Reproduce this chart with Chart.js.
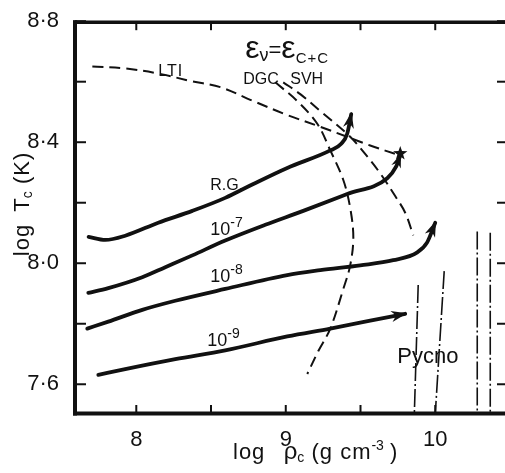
<!DOCTYPE html>
<html><head><meta charset="utf-8">
<script src="https://cdn.jsdelivr.net/npm/chart.js@4"></script>
<style>html,body{margin:0;padding:0;background:#fff}#wrap{width:505px;height:473px}</style>
</head><body><div id="wrap"><canvas id="c" width="505" height="473"></canvas></div>
<script>
// ---- tick values ----
const xTicks = [8, 9, 10];
const xMinorTicks = [8, 8.5, 9, 9.5, 10];
const yLabeled = [7.6, 8.0, 8.4, 8.8];
const yMinorTicks = [7.6, 7.8, 8.0, 8.2, 8.4, 8.6, 8.8];

// ---- evolutionary tracks (log rho_c, log T_c) ----
const rgRho = [7.681, 7.793, 7.926, 8.147, 8.375, 8.595, 8.783, 9.010, 9.298, 9.371, 9.411, 9.438];
const rgT   = [8.087, 8.077, 8.091, 8.134, 8.173, 8.216, 8.262, 8.315, 8.373, 8.395, 8.428, 8.493];

const m7Rho = [7.679, 7.813, 8.040, 8.194, 8.375, 8.595, 8.863, 9.117, 9.411, 9.679, 9.739, 9.766];
const m7T   = [7.902, 7.918, 7.954, 7.987, 8.026, 8.075, 8.127, 8.173, 8.229, 8.281, 8.320, 8.356];

const m8Rho = [7.672, 7.813, 8.040, 8.261, 8.595, 9.010, 9.231, 9.498, 9.719, 9.880, 9.946, 10.0];
const m8T   = [7.784, 7.807, 7.846, 7.876, 7.915, 7.961, 7.977, 7.993, 8.010, 8.036, 8.069, 8.134];

const m9Rho = [7.746, 7.926, 8.261, 8.595, 9.010, 9.298, 9.565, 9.799];
const m9T   = [7.631, 7.650, 7.683, 7.712, 7.758, 7.784, 7.810, 7.833];

// ---- ignition lines eps_nu = eps_C+C ----
const ltiRho = [7.706, 7.926, 8.147, 8.375, 8.562, 8.783, 9.010, 9.231, 9.411, 9.565, 9.766];
const ltiT   = [8.650, 8.644, 8.627, 8.601, 8.582, 8.536, 8.490, 8.451, 8.418, 8.389, 8.356];

const dgcRho = [8.930, 9.077, 9.211, 9.298, 9.385, 9.431, 9.452, 9.431, 9.385, 9.298, 9.217, 9.144];
const dgcT   = [8.598, 8.536, 8.461, 8.373, 8.275, 8.183, 8.085, 7.993, 7.915, 7.784, 7.709, 7.634];

const svhRho = [8.983, 9.097, 9.231, 9.431, 9.545, 9.632, 9.732, 9.799, 9.853];
const svhT   = [8.598, 8.559, 8.503, 8.418, 8.353, 8.297, 8.222, 8.167, 8.092];

// ---- pycnonuclear lines ----
const py1Rho = [9.886, 9.860]; const py1T = [7.928, 7.50];
const py2Rho = [10.060, 10.000]; const py2T = [7.974, 7.50];
const py3Rho = [10.281, 10.281]; const py3T = [8.105, 7.50];
const py4Rho = [10.368, 10.368]; const py4T = [8.101, 7.50];

const INK = '#111';
const FONT = 'Liberation Sans, Arial, sans-serif';
const pts = (xs, ys) => xs.map((v, i) => ({x: v, y: ys[i]}));
const solid = (xs, ys) => ({data: pts(xs, ys), showLine: true, borderColor: INK, borderWidth: 3.8, pointRadius: 0, cubicInterpolationMode: 'monotone', fill: false, borderCapStyle: 'round'});
const dashed = (xs, ys) => ({data: pts(xs, ys), showLine: true, borderColor: INK, borderWidth: 2, borderDash: [11, 6], pointRadius: 0, tension: 0.35, fill: false});
const dashdot = (xs, ys) => ({data: pts(xs, ys), showLine: true, borderColor: INK, borderWidth: 1.6, borderDash: [18, 3, 2, 3], pointRadius: 0, tension: 0, fill: false});

function rich(ctx, pieces, x, y, align) {
  // pieces: [text, size, dy, spacing]
  let total = 0;
  const w = pieces.map(p => { ctx.font = p[1] + 'px ' + FONT; ctx.letterSpacing = (p[3] || 0) + 'px'; const m = ctx.measureText(p[0]).width; total += m; return m; });
  let cx = align === 'center' ? x - total / 2 : x;
  pieces.forEach((p, i) => { ctx.font = p[1] + 'px ' + FONT; ctx.letterSpacing = (p[3] || 0) + 'px'; ctx.fillText(p[0], cx, y + (p[2] || 0)); cx += w[i]; });
  ctx.letterSpacing = '0px';
}

const overlay = {
  id: 'overlay',
  afterDatasetsDraw(chart) {
    const {ctx, chartArea: a, scales: {x, y}} = chart;
    const X = v => x.getPixelForValue(v), Y = v => y.getPixelForValue(v);
    ctx.save();
    ctx.fillStyle = INK; ctx.strokeStyle = INK;

    // arrowheads
    function arrow(xs, ys, len, wid) {
      const n = xs.length;
      const px = X(xs[n - 1]), py = Y(ys[n - 1]);
      const qx = X(xs[n - 2]), qy = Y(ys[n - 2]);
      let dx = px - qx, dy = py - qy; const L = Math.hypot(dx, dy); dx /= L; dy /= L;
      const tx = px + dx * 2, ty = py + dy * 2;
      const bx = tx - dx * len, by = ty - dy * len;
      ctx.beginPath();
      ctx.moveTo(tx, ty);
      ctx.lineTo(bx - dy * wid / 2, by + dx * wid / 2);
      ctx.lineTo(tx - dx * len * 0.7, ty - dy * len * 0.7);
      ctx.lineTo(bx + dy * wid / 2, by - dx * wid / 2);
      ctx.closePath(); ctx.fill();
    }
    arrow(rgRho, rgT, 16, 11);
    arrow(m7Rho, m7T, 14, 10);
    arrow(m8Rho, m8T, 16, 11);
    arrow(m9Rho, m9T, 16, 11);

    // star at end of 1e-7 track
    const sx = X(m7Rho[m7Rho.length - 1]), sy = Y(m7T[m7T.length - 1]) - 2;
    ctx.beginPath();
    for (let k = 0; k < 10; k++) {
      const r = k % 2 ? 3 : 7.5, t = -Math.PI / 2 + k * Math.PI / 5;
      const ppx = sx + r * Math.cos(t), ppy = sy + r * Math.sin(t);
      k ? ctx.lineTo(ppx, ppy) : ctx.moveTo(ppx, ppy);
    }
    ctx.closePath(); ctx.fill();

    // frame
    ctx.lineCap = 'butt';
    ctx.lineWidth = 4;
    ctx.beginPath(); ctx.moveTo(a.left, a.top - 1); ctx.lineTo(a.left, a.bottom + 2.5); ctx.stroke();
    ctx.beginPath(); ctx.moveTo(a.left - 2, a.bottom + 0.5); ctx.lineTo(chart.width, a.bottom + 0.5); ctx.stroke();
    ctx.lineWidth = 3.5;
    ctx.beginPath(); ctx.moveTo(a.left - 2, a.top + 1); ctx.lineTo(chart.width, a.top + 1); ctx.stroke();

    // inward ticks
    ctx.lineWidth = 2;
    yMinorTicks.forEach(v => {
      const yy = Y(v);
      ctx.beginPath(); ctx.moveTo(a.left, yy); ctx.lineTo(a.left + 11, yy); ctx.stroke();
      ctx.beginPath(); ctx.moveTo(chart.width, yy); ctx.lineTo(chart.width - 8, yy); ctx.stroke();
    });
    xMinorTicks.forEach(v => {
      const xx = X(v);
      ctx.beginPath(); ctx.moveTo(xx, a.bottom); ctx.lineTo(xx, a.bottom - 8); ctx.stroke();
      ctx.beginPath(); ctx.moveTo(xx, a.top + 1); ctx.lineTo(xx, a.top + 9); ctx.stroke();
    });

    // annotations
    ctx.textBaseline = 'alphabetic';
    ctx.textAlign = 'left';
    rich(ctx, [['ε', 32], ['ν', 18, 3], ['=', 22, -1], ['ε', 32], ['C+C', 15, 5, 1]], X(8.729), Y(8.680));
    rich(ctx, [['DGC', 16]], X(8.716), Y(8.592));
    rich(ctx, [['SVH', 16]], X(9.030), Y(8.592));
    rich(ctx, [['LTI', 16, 0, 1]], X(8.147), Y(8.618));
    rich(ctx, [['R.G.', 16]], X(8.495), Y(8.242));
    rich(ctx, [['10', 18], ['-7', 14, -8]], X(8.495), Y(8.092));
    rich(ctx, [['10', 18], ['-8', 14, -8]], X(8.495), Y(7.938));
    rich(ctx, [['10', 18], ['-9', 14, -8]], X(8.475), Y(7.725));
    rich(ctx, [['Pycno', 22]], X(9.746), Y(7.670));

    // axis titles
    rich(ctx, [['log', 22, 0, 1], ['   ', 22], ['ρ', 24], ['c', 14, 3], [' (g cm', 22, 0, 1], ['-3', 14, -9], [' )', 22]], 233, 459);
    ctx.translate(29, 204);
    ctx.rotate(-Math.PI / 2);
    rich(ctx, [['log', 22, 0, 1], ['  T', 22], ['c', 14, 3], [' (K)', 22, 0, 1]], 0, 0, 'center');
    ctx.restore();
  }
};

new Chart(document.getElementById('c'), {
  type: 'scatter',
  data: {
    datasets: [
      solid(rgRho, rgT), solid(m7Rho, m7T), solid(m8Rho, m8T), solid(m9Rho, m9T),
      dashed(ltiRho, ltiT), dashed(dgcRho, dgcT), dashed(svhRho, svhT),
      dashdot(py1Rho, py1T), dashdot(py2Rho, py2T), dashdot(py3Rho, py3T), dashdot(py4Rho, py4T)
    ]
  },
  options: {
    responsive: false, animation: false, devicePixelRatio: 1,
    layout: {padding: {top: 16, right: 1, left: 0, bottom: 0}},
    plugins: {legend: {display: false}, tooltip: {enabled: false}},
    scales: {
      x: {
        type: 'linear', min: 7.59, max: 10.46,
        afterBuildTicks: s => { s.ticks = xTicks.map(v => ({value: v})); },
        afterFit: s => { s.height = 60; },
        grid: {display: false}, border: {display: false},
        ticks: {color: INK, padding: 6, font: {family: FONT, size: 22}, callback: v => String(v)}
      },
      y: {
        type: 'linear', min: 7.505, max: 8.8,
        afterBuildTicks: s => { s.ticks = yLabeled.map(v => ({value: v})); },
        afterFit: s => { s.width = 75; },
        grid: {display: false}, border: {display: false},
        ticks: {color: INK, padding: 8, font: {family: FONT, size: 22}, callback: v => Number(v).toFixed(1).replace('.', '·')}
      }
    }
  },
  plugins: [overlay]
});
</script>
</body></html>
